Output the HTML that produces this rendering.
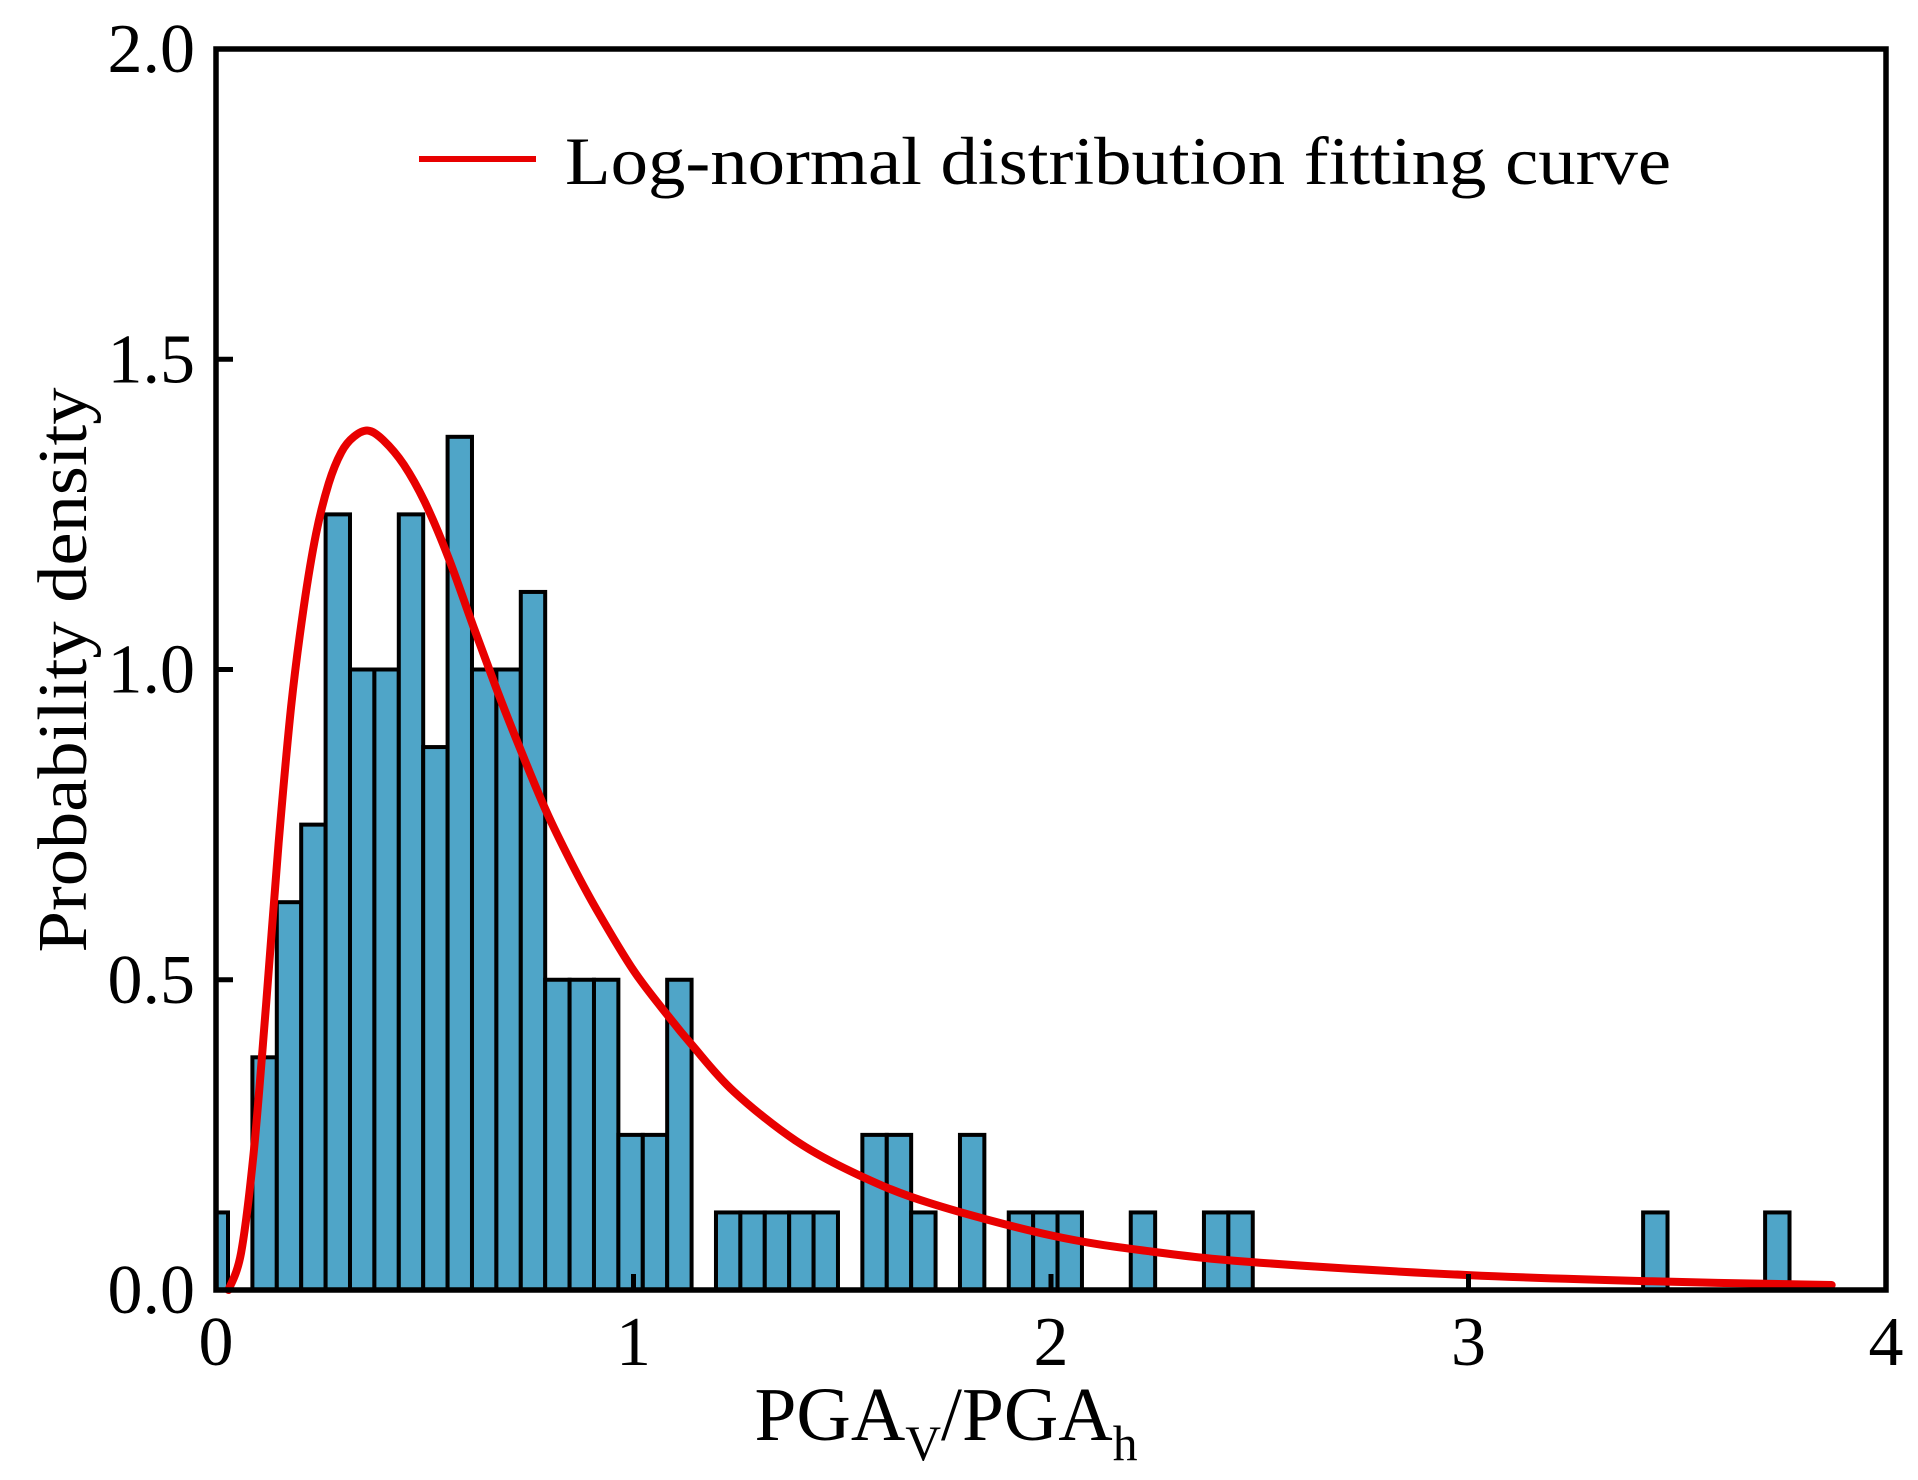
<!DOCTYPE html>
<html><head><meta charset="utf-8"><style>
html,body{margin:0;padding:0;background:#fff;}
svg{display:block;font-family:"Liberation Serif",serif;}
</style></head><body>
<svg id="chart" width="1918" height="1480" viewBox="0 0 1918 1480">
<g id="bars"></g>
<path id="curve" fill="none" stroke="#E80000" stroke-width="8" stroke-linecap="round" stroke-linejoin="round"/>
<rect x="216" y="49" width="1670" height="1241" fill="none" stroke="#000" stroke-width="5.5"/>
<g id="ticks"></g>
<g id="legend">
<line x1="419" y1="159" x2="536" y2="159" stroke="#E80000" stroke-width="6"/>
<text x="565" y="184" font-size="68" textLength="1106" lengthAdjust="spacingAndGlyphs">Log-normal distribution fitting curve</text>
</g>
<text transform="translate(86,670) rotate(-90)" text-anchor="middle" font-size="70" textLength="565" lengthAdjust="spacingAndGlyphs">Probability density</text>
<text x="946" y="1440" text-anchor="middle" font-size="76" textLength="383" lengthAdjust="spacingAndGlyphs">PGA<tspan font-size="50" dy="20">V</tspan><tspan dy="-20">/PGA</tspan><tspan font-size="50" dy="20">h</tspan></text>
</svg>
<script>
const binCounts = [1,0,3,5,6,10,8,8,10,7,11,8,8,9,4,4,4,2,2,4,0,1,1,1,1,1,0,2,2,1,0,2,0,1,1,1,0,0,1,0,0,1,1,0,0,0,0,0,0,0,0,0,0,0,0,0,0,0,0,1,0,0,0,0,1];
const densityPerCount = [0.125];
const binEdge = [-0.0297, 0.05844];
const curveX = [0.03,0.06,0.09,0.12,0.15,0.18,0.21,0.24,0.27,0.30,0.33,0.364,0.40,0.45,0.50,0.557,0.616,0.674,0.733,0.792,0.85,0.91,1.0,1.085,1.14,1.24,1.39,1.54,1.71,2.0,2.24,2.5,3.0,3.44,3.87];
const curveY = [0.0,0.06,0.22,0.46,0.72,0.94,1.10,1.22,1.30,1.35,1.375,1.385,1.37,1.33,1.27,1.18,1.07,0.965,0.865,0.77,0.69,0.615,0.515,0.44,0.395,0.32,0.24,0.185,0.14,0.088,0.062,0.044,0.024,0.014,0.008];
const xTicks = [0,1,2,3,4];
const yTicks = [0.0,0.5,1.0,1.5,2.0];
const yTickLabels = ["0.0","0.5","1.0","1.5","2.0"];

const X0=216,X1=1886,Y0=1290,Y1=49;
const sx=v=>X0+(v-0)/4*(X1-X0);
const sy=v=>Y0-(v-0)/2*(Y0-Y1);
const NS='http://www.w3.org/2000/svg';

const bars=document.getElementById('bars');
binCounts.forEach((c,i)=>{
  if(!c) return;
  let a=binEdge[0]+i*binEdge[1], b=a+binEdge[1];
  a=Math.max(a,0);
  const r=document.createElementNS(NS,'rect');
  r.setAttribute('x',sx(a)); r.setAttribute('width',sx(b)-sx(a));
  const h=c*densityPerCount[0];
  r.setAttribute('y',sy(h)); r.setAttribute('height',sy(0)-sy(h));
  r.setAttribute('fill','#4FA5C8'); r.setAttribute('stroke','#000'); r.setAttribute('stroke-width','4');
  
  
  bars.appendChild(r);
});

const P=curveX.map((x,i)=>[sx(x),sy(curveY[i])]);
let d='M'+P[0][0].toFixed(1)+','+P[0][1].toFixed(1);
for(let i=0;i<P.length-1;i++){
  const p0=P[Math.max(i-1,0)],p1=P[i],p2=P[i+1],p3=P[Math.min(i+2,P.length-1)];
  const c1=[p1[0]+(p2[0]-p0[0])/6,p1[1]+(p2[1]-p0[1])/6];
  const c2=[p2[0]-(p3[0]-p1[0])/6,p2[1]-(p3[1]-p1[1])/6];
  d+='C'+c1.map(v=>v.toFixed(1)).join(',')+' '+c2.map(v=>v.toFixed(1)).join(',')+' '+p2.map(v=>v.toFixed(1)).join(',');
}
document.getElementById('curve').setAttribute('d',d);

const tg=document.getElementById('ticks');
xTicks.forEach(v=>{
  if(v>0&&v<4){
    const l=document.createElementNS(NS,'line');
    l.setAttribute('x1',sx(v));l.setAttribute('x2',sx(v));l.setAttribute('y1',Y0);l.setAttribute('y2',Y0-16);
    l.setAttribute('stroke','#000');l.setAttribute('stroke-width','5');
    
    
    tg.appendChild(l);
  }
  const t=document.createElementNS(NS,'text');
  t.setAttribute('x',sx(v));t.setAttribute('y',Y0+75);t.setAttribute('text-anchor','middle');t.setAttribute('font-size','70');
  t.textContent=String(v);
  
  
  tg.appendChild(t);
});
yTicks.forEach((v,i)=>{
  if(v>0&&v<2){
    const l=document.createElementNS(NS,'line');
    l.setAttribute('x1',X0);l.setAttribute('x2',X0+17);l.setAttribute('y1',sy(v));l.setAttribute('y2',sy(v));
    l.setAttribute('stroke','#000');l.setAttribute('stroke-width','5');
    
    
    tg.appendChild(l);
  }
  const t=document.createElementNS(NS,'text');
  t.setAttribute('x',195);t.setAttribute('y',sy(v)+23);t.setAttribute('text-anchor','end');t.setAttribute('font-size','70');
  t.textContent=yTickLabels[i];
  
  
  tg.appendChild(t);
});
</script>
</body></html>
